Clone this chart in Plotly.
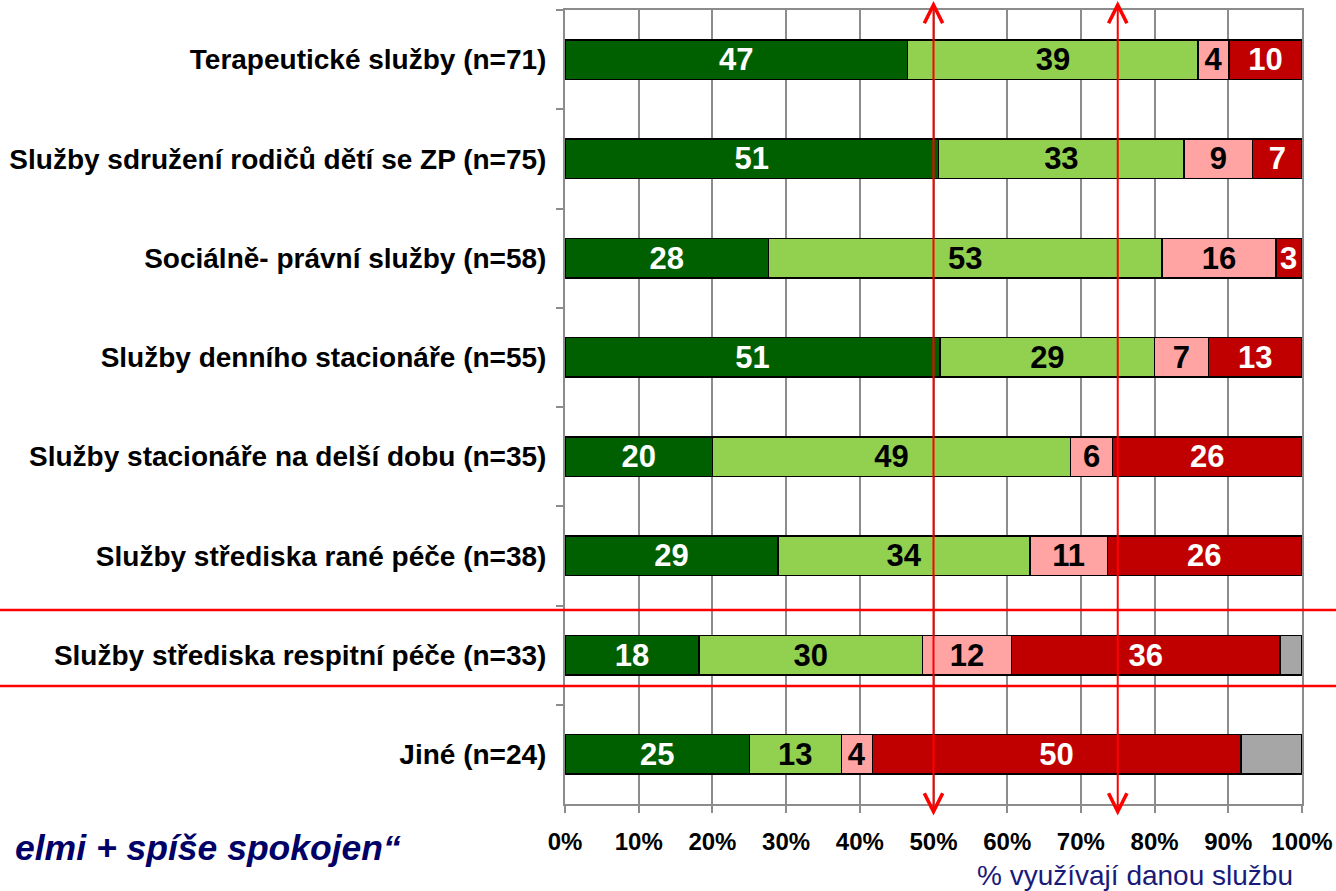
import plotly.graph_objects as go

categories = [
    "Terapeutické služby (n=71)",
    "Služby sdružení rodičů dětí se ZP (n=75)",
    "Sociálně- právní služby (n=58)",
    "Služby denního stacionáře (n=55)",
    "Služby stacionáře na delší dobu (n=35)",
    "Služby střediska rané péče (n=38)",
    "Služby střediska respitní péče (n=33)",
    "Jiné (n=24)",
]

velmi_spokojen = [46.5, 50.7, 27.6, 50.9, 20.0, 28.9, 18.2, 25.0]
spise_spokojen = [39.4, 33.3, 53.4, 29.1, 48.6, 34.2, 30.3, 12.5]
spise_nespokojen = [4.2, 9.3, 15.5, 7.3, 5.7, 10.5, 12.1, 4.2]
velmi_nespokojen = [9.9, 6.7, 3.4, 12.7, 25.7, 26.3, 36.4, 50.0]
nevi = [0, 0, 0, 0, 0, 0, 3.0, 8.3]

x_ticks = [0, 10, 20, 30, 40, 50, 60, 70, 80, 90, 100]
x_ticktext = ["0%", "10%", "20%", "30%", "40%", "50%", "60%", "70%", "80%", "90%", "100%"]
arrow_positions = [50, 75]

W, H = 1336, 891
ML, MR, MT, MB = 565, 34, 10, 87
PW = W - ML - MR
PH = H - MT - MB


def px_x(p):
    return (p - ML) / PW


def px_y(p):
    return (H - MB - p) / PH


FONT = "Arial, Liberation Sans, sans-serif"

series = [
    ("Velmi spokojen", velmi_spokojen, "#006000", "white", True),
    ("Spíše spokojen", spise_spokojen, "#92D050", "black", True),
    ("Spíše nespokojen", spise_nespokojen, "#FFA3A3", "black", True),
    ("Velmi nespokojen", velmi_nespokojen, "#C00000", "white", True),
    ("Neví", nevi, "#A6A6A6", "black", False),
]

fig = go.Figure()
for name, vals, color, tcolor, show_text in series:
    fig.add_trace(go.Bar(
        name=name,
        y=categories,
        x=vals,
        orientation="h",
        marker=dict(color=color, line=dict(color="black", width=1.5)),
        texttemplate="%{x:.0f}" if show_text else None,
        textposition="inside" if show_text else "none",
        insidetextanchor="middle",
        constraintext="none",
        textangle=0,
        textfont=dict(family=FONT, size=31, color=tcolor, weight="bold"),
        cliponaxis=False,
    ))

fig.update_layout(
    barmode="stack",
    bargap=0.6,
    width=W,
    height=H,
    margin=dict(l=ML, r=MR, t=MT, b=MB, autoexpand=False),
    plot_bgcolor="white",
    paper_bgcolor="white",
    showlegend=False,
    font=dict(family=FONT),
    xaxis=dict(
        range=[0, 100.001],
        tickvals=x_ticks,
        ticktext=x_ticktext,
        showgrid=True,
        gridcolor="#8C8C8C",
        gridwidth=1.5,
        showline=True,
        linecolor="#8C8C8C",
        linewidth=2,
        mirror=True,
        ticks="outside",
        ticklen=7,
        tickcolor="#8C8C8C",
        tickwidth=1.5,
        tickfont=dict(family=FONT, size=24, color="black", weight="bold"),
        ticklabelstandoff=8,
        zeroline=False,
    ),
    yaxis=dict(
        autorange="reversed",
        showline=True,
        linecolor="#8C8C8C",
        linewidth=2,
        mirror=True,
        ticks="outside",
        tickson="boundaries",
        ticklen=7,
        tickcolor="#8C8C8C",
        tickwidth=1.5,
        tickfont=dict(family=FONT, size=28, color="black", weight="bold"),
        ticklabelstandoff=11,
        showgrid=False,
    ),
)

# red horizontal lines highlighting one row
for yp in [610, 686]:
    fig.add_shape(type="line", xref="paper", yref="paper",
                  x0=px_x(0), x1=px_x(W), y0=px_y(yp), y1=px_y(yp),
                  line=dict(color="#FF0000", width=2.5))

# red double-headed arrows at 50% and 75%
for xa in arrow_positions:
    fig.add_annotation(
        x=xa, xref="x", y=px_y(1), yref="paper",
        ax=0, ay=816, axref="pixel", ayref="pixel",
        text="", showarrow=True,
        arrowside="end+start", arrowhead=5, startarrowhead=5,
        arrowsize=1.8, startarrowsize=1.8, arrowwidth=2, arrowcolor="#FF0000",
        standoff=0, startstandoff=0,
    )

fig.add_annotation(
    x=px_x(1135), y=px_y(875), xref="paper", yref="paper",
    text="% využívají danou službu", showarrow=False,
    font=dict(family=FONT, size=28, color="#1A1A7A"),
    xanchor="center", yanchor="middle",
)

fig.add_annotation(
    x=px_x(403), y=px_y(848), xref="paper", yref="paper",
    text="<b><i>elmi + spíše spokojen“</i></b>", showarrow=False,
    font=dict(family=FONT, size=35.5, color="#000066"),
    xanchor="right", yanchor="middle",
)

fig.write_html("out.html", config={"displayModeBar": False},
               post_script="document.body.style.margin='0px';")
